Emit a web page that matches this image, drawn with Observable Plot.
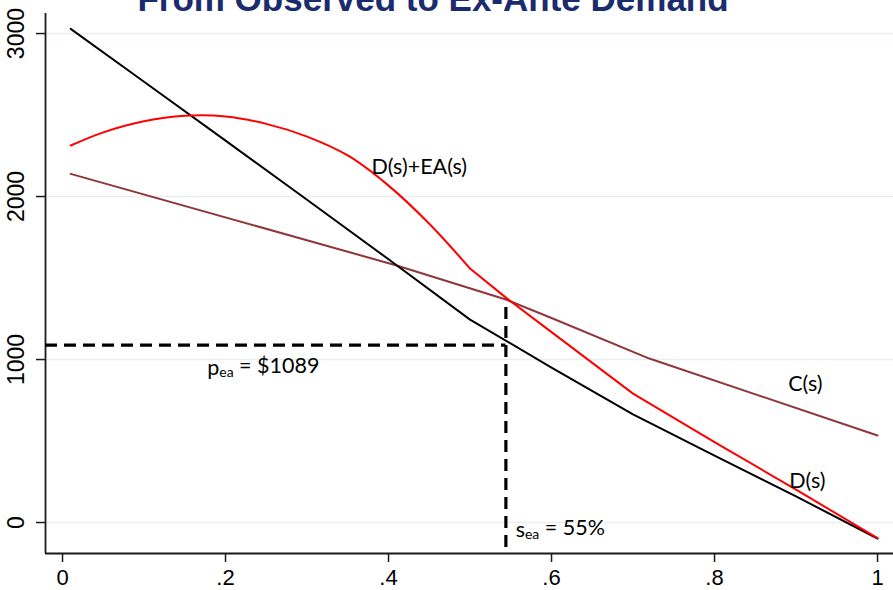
<!DOCTYPE html>
<html><head><meta charset="utf-8">
<script src="https://cdn.jsdelivr.net/npm/d3@7"></script>
<script src="https://cdn.jsdelivr.net/npm/@observablehq/plot@0.6"></script>
<style>
body{margin:0;background:#fff}
#chart{width:893px;height:590px;overflow:hidden}
</style>
</head><body><div id="chart"></div>
<script>
const title = "From Observed to Ex-Ante Demand";
const xTicks = [0, 0.2, 0.4, 0.6, 0.8, 1];
const xTickLabels = ["0", ".2", ".4", ".6", ".8", "1"];
const yTicks = [0, 1000, 2000, 3000];
const yTickLabels = ["0", "1000", "2000", "3000"];

// D(s): observed demand
const dShare = [0.01, 0.1, 0.2, 0.3, 0.4, 0.5, 0.6, 0.7, 0.8, 0.9, 1.0];
const dValue = [3029, 2704, 2343, 1980, 1615, 1245, 951, 663, 411, 160, -98];
// D(s)+EA(s): ex-ante demand (smooth part up to s = .5, then piecewise)
const eaShare = [0.01, 0.05, 0.1, 0.15, 0.2, 0.25, 0.3, 0.35, 0.4, 0.45, 0.5, 0.544, 0.6, 0.7, 0.8, 0.9, 1.0];
const eaValue = [2313, 2394, 2462, 2495, 2491, 2446, 2368, 2252, 2067, 1833, 1558, 1380, 1168, 791, 493, 202, -96];
const eaSmoothEnd = 0.5;
// C(s): cost curve
const cShare = [0.01, 0.41, 0.544, 0.6, 0.72, 1.0];
const cValue = [2139, 1577, 1368, 1255, 1006, 534];

// equilibrium
const eqShare = 0.544;
const eqPrice = 1089;
const eqTop = 1331;

// annotations
const labelText = ["D(s)+EA(s)", "C(s)", "D(s)", "p{ea} = $1089", "s{ea} = 55%"];
const labelShare = [0.379, 0.8904, 0.8917, 0.1775, 0.556];
const labelValue = [2141, 804, 213, 908, -86];

const xDomain = [-0.0209, 1.0196];
const yDomain = [-190, 3123];

const toRows = (xs, ys) => xs.map((x, i) => ({x, y: ys[i]}));
const labels = labelText.map((t, i) => ({t, x: labelShare[i], y: labelValue[i]}));
const eaRows = toRows(eaShare, eaValue);
const eaSmooth = eaRows.filter((d) => d.x <= eaSmoothEnd);
const eaRest = eaRows.filter((d) => d.x >= eaSmoothEnd);

const chart = Plot.plot({
  width: 893,
  height: 590,
  marginLeft: 45,
  marginRight: 0,
  marginTop: 13,
  marginBottom: 37,
  style: {fontFamily: "'Liberation Sans', Arial, sans-serif", background: "#fff", overflow: "visible"},
  x: {domain: xDomain},
  y: {domain: yDomain},
  marks: [
    Plot.ruleY(yTicks, {stroke: "#e7eff2", strokeWidth: 1.6}),
    Plot.ruleX([xDomain[0]], {stroke: "#1a1a1a", strokeWidth: 1.8}),
    Plot.ruleY([yDomain[0]], {stroke: "#1a1a1a", strokeWidth: 1.8}),
    Plot.axisX(xTicks, {tickSize: 9, tickPadding: 7, fontSize: 22, stroke: "#1a1a1a", strokeWidth: 1.5, fill: "#000",
      tickFormat: (d) => xTickLabels[xTicks.indexOf(d)], label: null}),
    Plot.axisY(yTicks, {tickSize: 9, stroke: "#1a1a1a", strokeWidth: 1.5, tickFormat: () => "", label: null}),
    Plot.text(yTicks, {y: (d) => d, frameAnchor: "left", dx: -22, rotate: -90, textAnchor: "middle",
      lineAnchor: "bottom", fontSize: 23, fill: "#000", text: (d) => yTickLabels[yTicks.indexOf(d)]}),
    Plot.line(toRows(cShare, cValue), {x: "x", y: "y", stroke: "#8f363c", strokeWidth: 2}),
    Plot.line(toRows(dShare, dValue), {x: "x", y: "y", stroke: "#000", strokeWidth: 2}),
    Plot.line(eaSmooth, {x: "x", y: "y", stroke: "#ff0000", strokeWidth: 2, curve: "catmull-rom"}),
    Plot.line(eaRest, {x: "x", y: "y", stroke: "#ff0000", strokeWidth: 2}),
    Plot.ruleY([eqPrice], {x1: xDomain[0], x2: eqShare, stroke: "#000", strokeWidth: 3.2, strokeDasharray: "12,7"}),
    Plot.ruleX([eqShare], {y1: -153, y2: eqTop, stroke: "#000", strokeWidth: 3.2, strokeDasharray: "12,7"}),
    Plot.text(labels, {x: "x", y: "y", text: "t", textAnchor: "start", lineAnchor: "bottom",
      fontSize: 21.5, fill: "#000", fontFamily: "Lato, 'Open Sans', sans-serif"}),
    Plot.text([title], {frameAnchor: "top", dx: -36.5, dy: -3, lineAnchor: "bottom", fontSize: 35,
      fontWeight: "bold", fill: "#1a2c6e", text: (d) => d})
  ]
});

// subscripts: "p{ea}" -> p with subscript ea
d3.select(chart).selectAll("text").each(function () {
  const s = this.textContent;
  const m = s.match(/^(.*?)\{(.+?)\}(.*)$/);
  if (!m) return;
  const el = d3.select(this);
  el.text(null);
  el.append("tspan").text(m[1]);
  el.append("tspan").attr("font-size", "0.65em").attr("dy", "0.2em").text(m[2]);
  el.append("tspan").attr("dy", "-0.2em").text(m[3]);
});

document.getElementById("chart").appendChild(chart);
</script>
</body></html>
